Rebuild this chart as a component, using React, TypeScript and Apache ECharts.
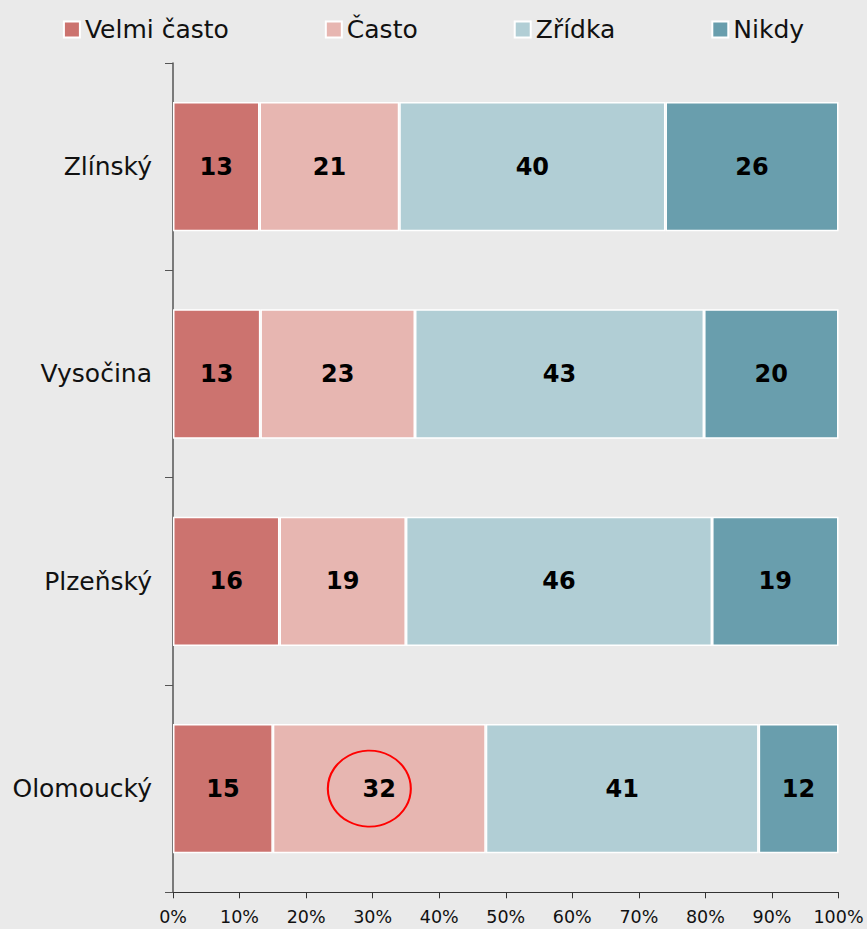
import React, { useEffect, useRef } from "react";
import * as echarts from "echarts";

const regions = ["Zlínský", "Vysočina", "Plzeňský", "Olomoucký"];
const seriesNames = ["Velmi často", "Často", "Zřídka", "Nikdy"];
const velmiCasto = [13, 13, 16, 15];
const casto = [21, 23, 19, 32];
const zridka = [40, 43, 46, 41];
const nikdy = [26, 20, 19, 12];
const colors = ["#cc736f", "#e7b6b1", "#b1ced5", "#699ead"];
const xTicks = [0, 10, 20, 30, 40, 50, 60, 70, 80, 90, 100];

// highlighted value (Olomoucký, Často) – red ellipse annotation
const highlight = { region: "Olomoucký", at: 29.5 };

const FONT = "'DejaVu Sans', Verdana, sans-serif";

export default function App() {
  const ref = useRef<HTMLDivElement>(null);

  useEffect(() => {
    if (!ref.current) return;
    const chart = echarts.init(ref.current, undefined, { renderer: "svg" });
    const raw = [velmiCasto, casto, zridka, nikdy];
    const totals = regions.map((_, i) => raw.reduce((s, arr) => s + arr[i], 0));

    const series = raw.map((arr, si) => ({
      name: seriesNames[si],
      type: "bar",
      stack: "total",
      barWidth: "62.4%",
      data: arr.map((v, i) => ({ value: (v / totals[i]) * 100, raw: v })),
      itemStyle: { color: colors[si], borderColor: "#ffffff", borderWidth: 1.5 },
      label: {
        show: true,
        position: "inside",
        color: "#000",
        fontFamily: FONT,
        fontWeight: "bold",
        fontSize: 24,
        formatter: (p: any) => String(raw[si][p.dataIndex]),
      },
      markPoint:
        si === 1
          ? {
              silent: true,
              symbol: "circle",
              symbolSize: [83, 76],
              label: { show: false },
              itemStyle: { color: "rgba(0,0,0,0)", borderColor: "#ff0000", borderWidth: 2 },
              data: [{ coord: [highlight.at, highlight.region] }],
            }
          : undefined,
    }));

    chart.setOption({
      animation: false,
      backgroundColor: "#eaeaea",
      textStyle: { fontFamily: FONT },
      legend: {
        top: 12,
        left: "center",
        icon: "rect",
        itemWidth: 16,
        itemHeight: 16,
        itemGap: 96,
        textStyle: { fontFamily: FONT, fontSize: 25, color: "#111" },
        data: seriesNames,
      },
      grid: { left: 173, right: 28.5, top: 63, bottom: 36.7 },
      xAxis: {
        type: "value",
        min: 0,
        max: 100,
        interval: 10,
        splitLine: { show: false },
        axisLine: { show: true, lineStyle: { color: "#333", width: 1 } },
        axisTick: { show: true, length: 6, lineStyle: { color: "#333" } },
        axisLabel: {
          margin: 16,
          fontFamily: FONT,
          fontSize: 17.5,
          color: "#111",
          formatter: (v: number) => (xTicks.includes(v) ? `${v}%` : ""),
        },
      },
      yAxis: {
        type: "category",
        inverse: true,
        data: regions,
        axisLine: { show: true, lineStyle: { color: "#555", width: 1.5 } },
        axisTick: { show: true, length: 8, lineStyle: { color: "#555" } },
        axisLabel: { margin: 21, fontFamily: FONT, fontSize: 25, color: "#111" },
      },
      series,
    });

    return () => chart.dispose();
  }, []);

  return (
    <div
      ref={ref}
      style={{ position: "absolute", left: 0, top: 0, width: 867, height: 929 }}
    />
  );
}
